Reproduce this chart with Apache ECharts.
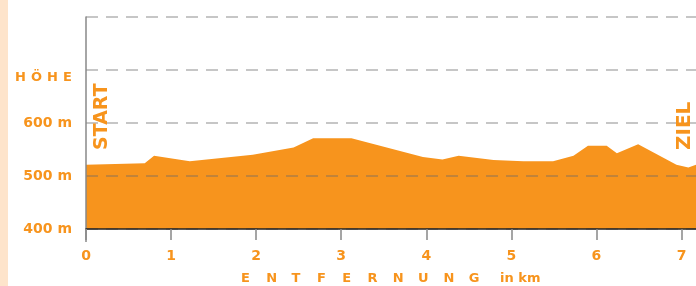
<!DOCTYPE html>
<html>
<head>
<meta charset="utf-8">
<script src="https://cdn.jsdelivr.net/npm/echarts@6/dist/echarts.min.js"></script>
<style>
  html, body { margin: 0; padding: 0; background: #fff; }
  #chart { width: 696px; height: 286px; }
</style>
</head>
<body>
<div id="chart"></div>
<script>
// Streckenprofil: Entfernung (km) und Höhe (m)
var distKm = [0, 0.69, 0.80, 1.22, 1.96, 2.44, 2.67, 3.12, 3.96, 4.19, 4.38, 4.79, 5.14, 5.49, 5.73, 5.90, 6.12, 6.24, 6.49, 6.94, 7.08, 7.17];
var hoehe  = [521, 524, 538, 528, 540, 554, 571, 571, 536, 531, 538, 530, 528, 528, 538, 557, 557, 543, 560, 521, 516, 521];
var xTicks = [0, 1, 2, 3, 4, 5, 6, 7];
var yTicks = [400, 500, 600];

var ORANGE = '#F7941D';
var FONT = 'DejaVu Sans';

var profil = distKm.map(function (d, i) { return [d, hoehe[i]]; });

var chart = echarts.init(document.getElementById('chart'));

// Achsentitel als einzelne Buchstaben (gesperrt)
var graphics = [
  { type: 'rect', left: 0, top: 0, shape: { width: 8, height: 286 }, style: { fill: '#FEE4CB' }, silent: true },
  // Verlängerung der Hochachse unter die Grundlinie
  { type: 'line', shape: { x1: 86, y1: 229, x2: 86, y2: 242 }, style: { stroke: '#888', lineWidth: 1.5 }, z: 10 }
];
'ENTFERNUNG'.split('').forEach(function (ch, i) {
  graphics.push({ type: 'text', x: 241 + i * 25.3, y: 279,
    style: { text: ch, fill: ORANGE, font: 'bold 13px ' + FONT, textAlign: 'left', textVerticalAlign: 'middle' } });
});
graphics.push({ type: 'text', x: 500, y: 279,
  style: { text: 'in km', fill: ORANGE, font: 'bold 13px ' + FONT, textAlign: 'left', textVerticalAlign: 'middle' } });
'HÖHE'.split('').forEach(function (ch, i) {
  graphics.push({ type: 'text', x: 15 + i * 16, y: 78,
    style: { text: ch, fill: ORANGE, font: 'bold 13px ' + FONT, textAlign: 'left', textVerticalAlign: 'middle' } });
});
graphics.push({ type: 'text', x: 102, y: 150, rotation: Math.PI / 2, z: 20,
  style: { text: 'START', fill: ORANGE, font: 'bold 19px ' + FONT, textAlign: 'left', textVerticalAlign: 'middle' } });
graphics.push({ type: 'text', x: 685, y: 150, rotation: Math.PI / 2, z: 20,
  style: { text: 'ZIEL', fill: ORANGE, font: 'bold 20px ' + FONT, textAlign: 'left', textVerticalAlign: 'middle' } });

chart.setOption({
  animation: false,
  grid: { left: 86, right: 0, top: 17, bottom: 57 },
  xAxis: {
    type: 'value', min: 0, max: 7.17, interval: 1, z: 5,
    axisLine: { show: true, lineStyle: { color: '#222', width: 1.5 } },
    axisTick: { show: true, length: 11, customValues: xTicks, lineStyle: { color: '#888', width: 1.5 } },
    axisLabel: { customValues: xTicks, margin: 20, color: ORANGE, fontFamily: FONT, fontWeight: 'bold', fontSize: 14 },
    splitLine: { show: false }
  },
  yAxis: {
    type: 'value', min: 400, max: 800, interval: 100, z: 5,
    axisLine: { show: true, lineStyle: { color: '#888', width: 1.5 } },
    axisTick: { show: false },
    axisLabel: {
      margin: 14, color: ORANGE, fontFamily: FONT, fontWeight: 'bold', fontSize: 14,
      formatter: function (v) { return yTicks.indexOf(v) >= 0 ? v + ' m' : ''; }
    },
    splitLine: { show: true, lineStyle: { color: 'rgba(105,105,105,0.5)', width: 1.5, type: [12, 8] } }
  },
  graphic: graphics,
  series: [{
    type: 'line',
    data: profil,
    showSymbol: false,
    smooth: false,
    z: 2,
    lineStyle: { width: 0 },
    areaStyle: { color: ORANGE, opacity: 1 }
  }]
});
</script>
</body>
</html>
